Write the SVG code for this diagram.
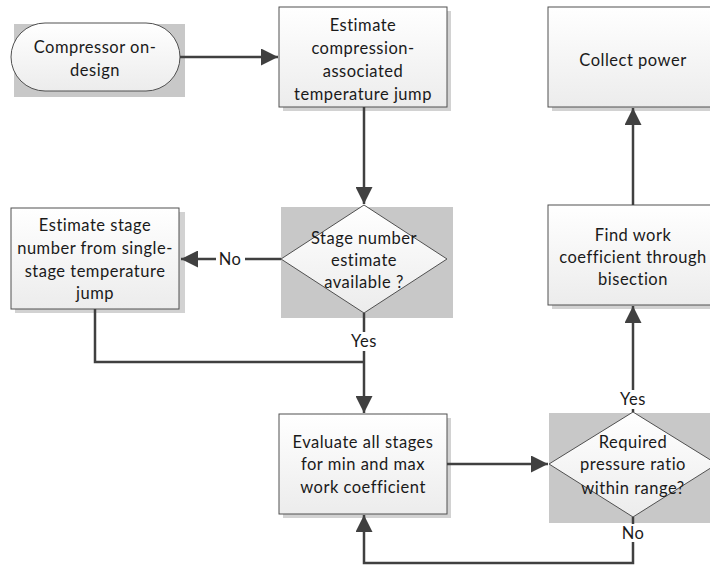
<svg xmlns="http://www.w3.org/2000/svg" width="710" height="566" viewBox="0 0 710 566">
  <defs>
    <linearGradient id="boxFill" x1="0" y1="0" x2="0" y2="1">
      <stop offset="0" stop-color="#ffffff"/>
      <stop offset="1" stop-color="#ececec"/>
    </linearGradient>
    <marker id="arrowBig" viewBox="0 0 10 10" refX="10" refY="5" markerWidth="17" markerHeight="17" markerUnits="userSpaceOnUse" orient="auto">
      <path d="M0,0 L10,5 L0,10 z" fill="#404040"/>
    </marker>
  </defs>
  <style>
    .box { fill: url(#boxFill); stroke: #505050; stroke-width: 1; }
    .shadow { fill: #d2d2d2; }
    .backdrop { fill: #c8c8c8; }
    .lbl { font-family: Lato, "Liberation Sans", sans-serif; font-size: 16.5px; letter-spacing: 0.5px; fill: #1a1a1a; text-anchor: middle; dominant-baseline: central; }
    .conn { fill: none; stroke: #404040; stroke-width: 2.5; }
    .tag { fill: #ffffff; }
  </style>

  <!-- Start terminator -->
  <g id="start">
    <rect class="backdrop" x="14" y="24" width="171" height="73"/>
    <rect class="box" x="11" y="23" width="169" height="68" rx="34" ry="34"/>
    <text class="lbl" x="95" y="47">Compressor on-</text>
    <text class="lbl" x="95" y="70">design</text>
  </g>

  <!-- Temperature jump estimate -->
  <g id="estimate-jump">
    <rect class="shadow" x="283" y="11" width="168" height="100"/>
    <rect class="box" x="279" y="7" width="168" height="100"/>
    <text class="lbl" x="363" y="25">Estimate</text>
    <text class="lbl" x="363" y="48">compression-</text>
    <text class="lbl" x="363" y="71">associated</text>
    <text class="lbl" x="363" y="94">temperature jump</text>
  </g>

  <!-- Collect power -->
  <g id="collect-power">
    <rect class="shadow" x="552" y="11" width="168" height="100"/>
    <rect class="box" x="548" y="7" width="170" height="100"/>
    <text class="lbl" x="633" y="60">Collect power</text>
  </g>

  <!-- Decision: stage number available -->
  <g id="stage-decision">
    <rect class="backdrop" x="281" y="207" width="172" height="111"/>
    <polygon class="box" points="364,205 447,259 364,313 281,259"/>
    <text class="lbl" x="364" y="238">Stage number</text>
    <text class="lbl" x="364" y="260">estimate</text>
    <text class="lbl" x="364" y="282">available ?</text>
  </g>

  <!-- Stage number from single-stage jump -->
  <g id="estimate-stages">
    <rect class="shadow" x="15" y="212" width="170" height="101"/>
    <rect class="box" x="11" y="208" width="168" height="101"/>
    <text class="lbl" x="95" y="225">Estimate stage</text>
    <text class="lbl" x="95" y="248">number from single-</text>
    <text class="lbl" x="95" y="271">stage temperature</text>
    <text class="lbl" x="95" y="293">jump</text>
  </g>

  <!-- Bisection -->
  <g id="bisection">
    <rect class="shadow" x="552" y="209" width="168" height="100"/>
    <rect class="box" x="548" y="205" width="170" height="100"/>
    <text class="lbl" x="633" y="235">Find work</text>
    <text class="lbl" x="633" y="257">coefficient through</text>
    <text class="lbl" x="633" y="279">bisection</text>
  </g>

  <!-- Evaluate stages -->
  <g id="evaluate">
    <rect class="shadow" x="283" y="418" width="168" height="100"/>
    <rect class="box" x="279" y="414" width="168" height="100"/>
    <text class="lbl" x="363" y="442">Evaluate all stages</text>
    <text class="lbl" x="363" y="464">for min and max</text>
    <text class="lbl" x="363" y="487">work coefficient</text>
  </g>

  <!-- Decision: pressure ratio in range -->
  <g id="ratio-decision">
    <rect class="backdrop" x="549" y="413" width="165" height="110"/>
    <polygon class="box" points="633,412 717,464 633,517 549,464"/>
    <text class="lbl" x="633" y="442">Required</text>
    <text class="lbl" x="633" y="464">pressure ratio</text>
    <text class="lbl" x="633" y="488">within range?</text>
  </g>

  <!-- Connectors -->
  <g id="connectors">
    <path class="conn" d="M180,57 L278,57" marker-end="url(#arrowBig)"/>
    <path class="conn" d="M364,107 L364,204" marker-end="url(#arrowBig)"/>
    <path class="conn" d="M281,259 L181,259" marker-end="url(#arrowBig)"/>
    <path class="conn" d="M364,313 L364,413" marker-end="url(#arrowBig)"/>
    <path class="conn" d="M95,309 L95,362 L364,362"/>
    <path class="conn" d="M447,464 L548,464" marker-end="url(#arrowBig)"/>
    <path class="conn" d="M633,412 L633,306" marker-end="url(#arrowBig)"/>
    <path class="conn" d="M633,205 L633,108" marker-end="url(#arrowBig)"/>
    <path class="conn" d="M633,517 L633,563 L364,563 L364,515" marker-end="url(#arrowBig)"/>

    <!-- branch labels -->
    <rect class="tag" x="216" y="250" width="29" height="18"/>
    <text class="lbl" x="230" y="259">No</text>
    <rect class="tag" x="349" y="332" width="31" height="19"/>
    <text class="lbl" x="364" y="341">Yes</text>
    <rect class="tag" x="618" y="390" width="31" height="19"/>
    <text class="lbl" x="633" y="399">Yes</text>
    <rect class="tag" x="620" y="524" width="26" height="18"/>
    <text class="lbl" x="633" y="533">No</text>
  </g>
</svg>
